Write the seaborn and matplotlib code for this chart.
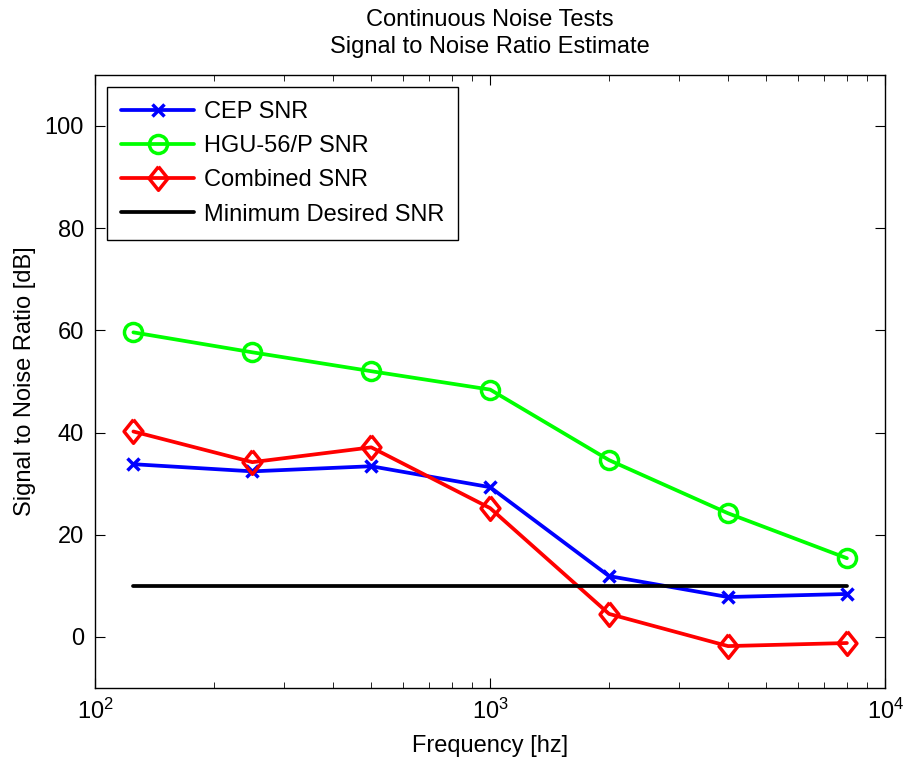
import numpy as np
import pandas as pd
import matplotlib
matplotlib.use('Agg')
import matplotlib.pyplot as plt
import seaborn as sns
from matplotlib.ticker import LogLocator, NullFormatter

## Data
freq = [125, 250, 500, 1000, 2000, 4000, 8000]
cep_snr = [33.8, 32.4, 33.4, 29.3, 11.9, 7.8, 8.4]
hgu_snr = [59.6, 55.7, 52.0, 48.4, 34.6, 24.2, 15.4]
combined_snr = [40.2, 34.2, 37.1, 25.2, 4.5, -1.8, -1.2]
min_snr = [10, 10, 10, 10, 10, 10, 10]

series_names = ['CEP SNR', 'HGU-56/P SNR', 'Combined SNR', 'Minimum Desired SNR']

df = pd.concat([
    pd.DataFrame({'freq': freq, 'snr': cep_snr, 'serie': series_names[0]}),
    pd.DataFrame({'freq': freq, 'snr': hgu_snr, 'serie': series_names[1]}),
    pd.DataFrame({'freq': freq, 'snr': combined_snr, 'serie': series_names[2]}),
    pd.DataFrame({'freq': [freq[0], freq[-1]], 'snr': [min_snr[0], min_snr[-1]], 'serie': series_names[3]}),
])

sns.set_style('white')
plt.rcParams['font.family'] = ['Liberation Sans', 'DejaVu Sans']
plt.rcParams['mathtext.fontset'] = 'custom'
plt.rcParams['mathtext.rm'] = 'Liberation Sans'
plt.rcParams['mathtext.it'] = 'Liberation Sans'
plt.rcParams['mathtext.bf'] = 'Liberation Sans'
plt.rcParams['text.color'] = 'black'
plt.rcParams['axes.labelcolor'] = 'black'

fig = plt.figure(figsize=(9.06, 7.64), dpi=100)
ax = fig.add_axes([0.105, 0.0995, 0.872, 0.8025])

# losango mais largo que o 'd' do matplotlib
losango = [(0, 1), (0.8, 0), (0, -1), (-0.8, 0), (0, 1)]

cores = {'CEP SNR': '#0000ff', 'HGU-56/P SNR': '#00ff00',
         'Combined SNR': '#ff0000', 'Minimum Desired SNR': '#000000'}
marcadores = {'CEP SNR': 'x', 'HGU-56/P SNR': 'o',
              'Combined SNR': losango, 'Minimum Desired SNR': None}
tamanhos = {'CEP SNR': 8, 'HGU-56/P SNR': 13, 'Combined SNR': 17, 'Minimum Desired SNR': 0}

for nome in series_names:
    sub = df[df['serie'] == nome]
    sns.lineplot(data=sub, x='freq', y='snr', ax=ax, color=cores[nome], lw=2.7,
                 marker=marcadores[nome],
                 markersize=tamanhos[nome], markerfacecolor='none',
                 markeredgecolor=cores[nome], markeredgewidth=2.5,
                 label=nome, estimator=None)

ax.set_xscale('log')
ax.set_xlim(100, 10000)
ax.set_ylim(-10, 110)
ax.set_yticks([0, 20, 40, 60, 80, 100])
ax.xaxis.set_minor_locator(LogLocator(base=10, subs=np.arange(2, 10)))
ax.xaxis.set_minor_formatter(NullFormatter())
ax.tick_params(which='both', direction='in', top=True, right=True, bottom=True, left=True,
               labelsize=17, colors='black')
ax.tick_params(which='major', length=7, width=0.8, pad=8)
ax.tick_params(which='minor', length=4, width=0.6)
for s in ax.spines.values():
    s.set_color('black')
    s.set_linewidth(1)

ax.set_xlabel('Frequency [hz]', fontsize=17, labelpad=8)
ax.set_ylabel('Signal to Noise Ratio [dB]', fontsize=17, labelpad=6)
ax.set_title('Continuous Noise Tests\nSignal to Noise Ratio Estimate', fontsize=17,
             linespacing=1.3, pad=16)

leg = ax.legend(loc='upper left', fontsize=17, fancybox=False, framealpha=1,
                edgecolor='black', borderaxespad=0.5, handlelength=3.1,
                handletextpad=0.4, labelspacing=0.52, borderpad=0.6)
leg.get_frame().set_linewidth(1)

plt.savefig('out.png', dpi=100)
